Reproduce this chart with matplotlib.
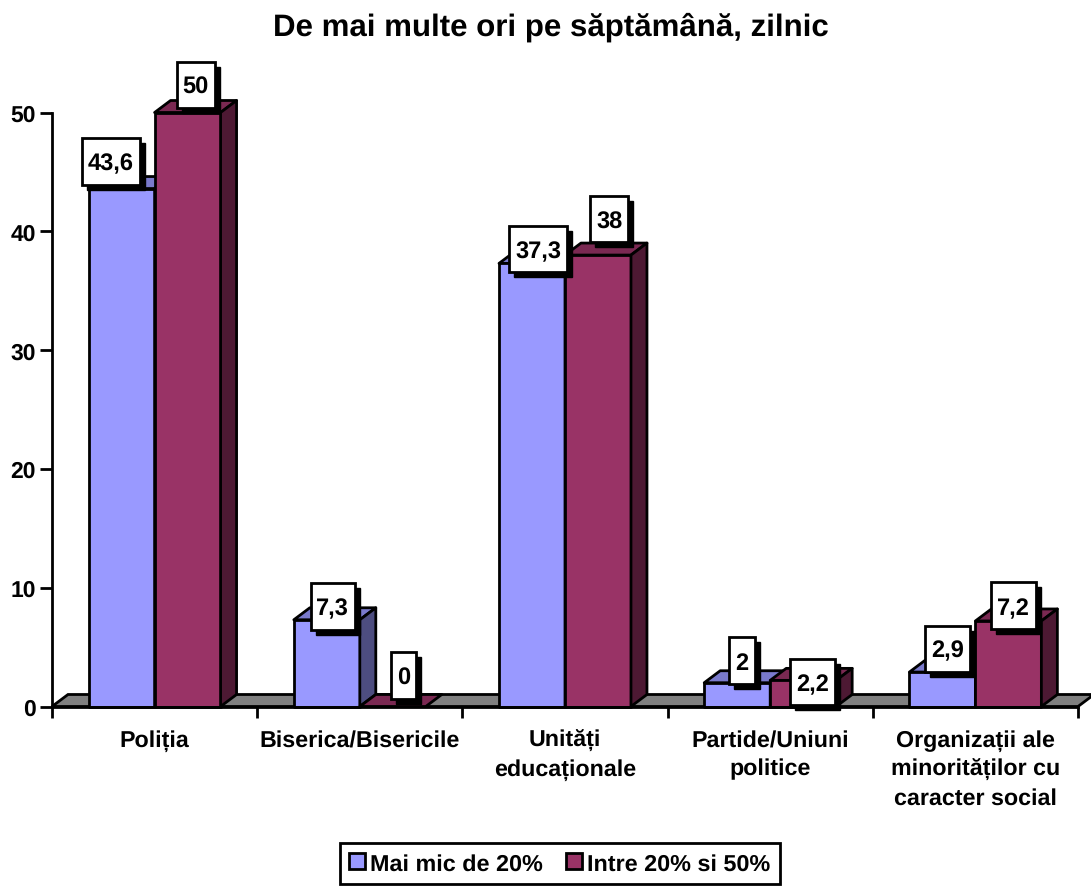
import matplotlib
matplotlib.use("Agg")
import matplotlib.pyplot as plt
from matplotlib.patches import Polygon, Rectangle, Patch
from matplotlib.transforms import IdentityTransform

plt.rcParams["font.family"] = ["Liberation Sans", "DejaVu Sans"]
plt.rcParams["font.weight"] = "bold"
plt.rcParams["text.hinting"] = "no_hinting"

TITLE = "De mai multe ori pe săptămână, zilnic"
CATEGORIES = ["Poliția", "Biserica/Bisericile", "Unități\neducaționale",
              "Partide/Uniuni\npolitice", "Organizații ale\nminorităților cu\ncaracter social"]
SERIES_NAMES = ["Mai mic de 20%", "Intre 20% si 50%"]
LOW = [43.6, 7.3, 37.3, 2, 2.9]
MID = [50, 0, 38, 2.2, 7.2]
LOW_TEXT = ["43,6", "7,3", "37,3", "2", "2,9"]
MID_TEXT = ["50", "0", "38", "2,2", "7,2"]
YTICKS = [0, 10, 20, 30, 40, 50]

W, H = 1091, 887
X0, X1, Y0, Y1 = 52, 1078, 707.5, 113.5   # plot area in image pixels
BAR_W = 0.3215
DX = 16 / ((X1 - X0) / 5)   # 3d depth in data units
DY = 12 / ((Y0 - Y1) / 50)
LW = 2.0

# colours: front, top, side
BLUE = ("#9999FF", "#7A7ACC", "#4D4D80")
RED = ("#993366", "#7A2952", "#4D1933")

# label boxes: centre offset from bar top-centre in px (right, up), width, height
LOW_BOX = [(-11, 27.5, 58, 47), (6, 13.5, 44, 47), (6, 14, 58, 46), (5, 22, 26, 47), (5.5, 23.5, 45, 46)]
MID_BOX = [(8, 28, 38, 46), (10.5, 31, 25, 47), (11.5, 36, 38, 46), (9, -2, 45, 46), (5, 15, 45, 47)]

fig = plt.figure(figsize=(W / 100, H / 100), dpi=100)
ax = fig.add_axes([X0 / W, (H - Y0) / H, (X1 - X0) / W, (Y0 - Y1) / H])
ax.set_xlim(0, 5)
ax.set_ylim(0, 50)
ax.patch.set_visible(False)

# grey floor
ax.add_patch(Polygon([(0, 0), (5, 0), (5 + DX, DY), (DX, DY)], closed=True, fc="#808080",
                     ec="black", lw=LW, clip_on=False, zorder=1))


def bar3d(x, v, cols):
    kw = dict(closed=True, ec="black", lw=LW, clip_on=False, zorder=2, joinstyle="round")
    ax.add_patch(Polygon([(x, v), (x + BAR_W, v), (x + BAR_W + DX, v + DY), (x + DX, v + DY)], fc=cols[1], **kw))
    if v > 0:
        ax.add_patch(Polygon([(x, 0), (x + BAR_W, 0), (x + BAR_W, v), (x, v)], fc=cols[0], **kw))
        ax.add_patch(Polygon([(x + BAR_W, 0), (x + BAR_W + DX, DY), (x + BAR_W + DX, v + DY), (x + BAR_W, v)],
                             fc=cols[2], **kw))


def value_box(x, v, txt, box):
    # box is placed in pixels relative to the bar top
    px, py = ax.transData.transform((x, v))
    cx, cy = px + box[0], py + box[1]
    w, h = box[2], box[3]
    tr = IdentityTransform()
    fig.add_artist(Rectangle((cx - w / 2 + 5, cy - h / 2 - 5), w, h, fc="black", ec="black", lw=1, transform=tr, zorder=5))
    fig.add_artist(Rectangle((cx - w / 2, cy - h / 2), w, h, fc="white", ec="black", lw=LW, transform=tr, zorder=6))
    fig.text(cx, cy - 2, txt, transform=tr, ha="center", va="center", fontsize=17, color="black", zorder=7)


for i in range(5):
    left = i + 0.5 - BAR_W
    bar3d(left, LOW[i], BLUE)
    bar3d(left + BAR_W, MID[i], RED)
for i in range(5):
    left = i + 0.5 - BAR_W
    value_box(left + BAR_W / 2, LOW[i], LOW_TEXT[i], LOW_BOX[i])
    value_box(left + BAR_W * 1.5, MID[i], MID_TEXT[i], MID_BOX[i])

for s in ("top", "right"):
    ax.spines[s].set_visible(False)
for s in ("left", "bottom"):
    ax.spines[s].set_linewidth(LW)
    ax.spines[s].set_zorder(3)

ax.set_yticks(YTICKS)
ax.tick_params(axis="y", length=8.5, width=LW, pad=3, labelsize=16.5)
ax.set_xticks(range(6))
ax.set_xticklabels([])
ax.tick_params(axis="x", which="major", length=8, width=LW)
ax.set_xticks([i + 0.5 for i in range(5)], minor=True)
ax.set_xticklabels(CATEGORIES, minor=True, fontsize=16.75, linespacing=1.42, va="top")
ax.tick_params(axis="x", which="minor", length=0, pad=16.5)

fig.text(551 / W, 1 - 27 / H, TITLE, ha="center", va="center", fontsize=22.5)

handles = [Patch(fc=BLUE[0], ec="black", lw=LW), Patch(fc=RED[0], ec="black", lw=LW)]
leg = fig.legend(handles, SERIES_NAMES, loc="center", bbox_to_anchor=(560 / W, 1 - 864.5 / H), ncol=2, fontsize=16.8,
                 frameon=True, fancybox=False, framealpha=1, edgecolor="black", handlelength=0.68, handleheight=0.68,
                 handletextpad=0.22, columnspacing=1.0, borderpad=0.42, borderaxespad=0)
leg.get_frame().set_linewidth(LW)

fig.savefig("out.png", dpi=100)
